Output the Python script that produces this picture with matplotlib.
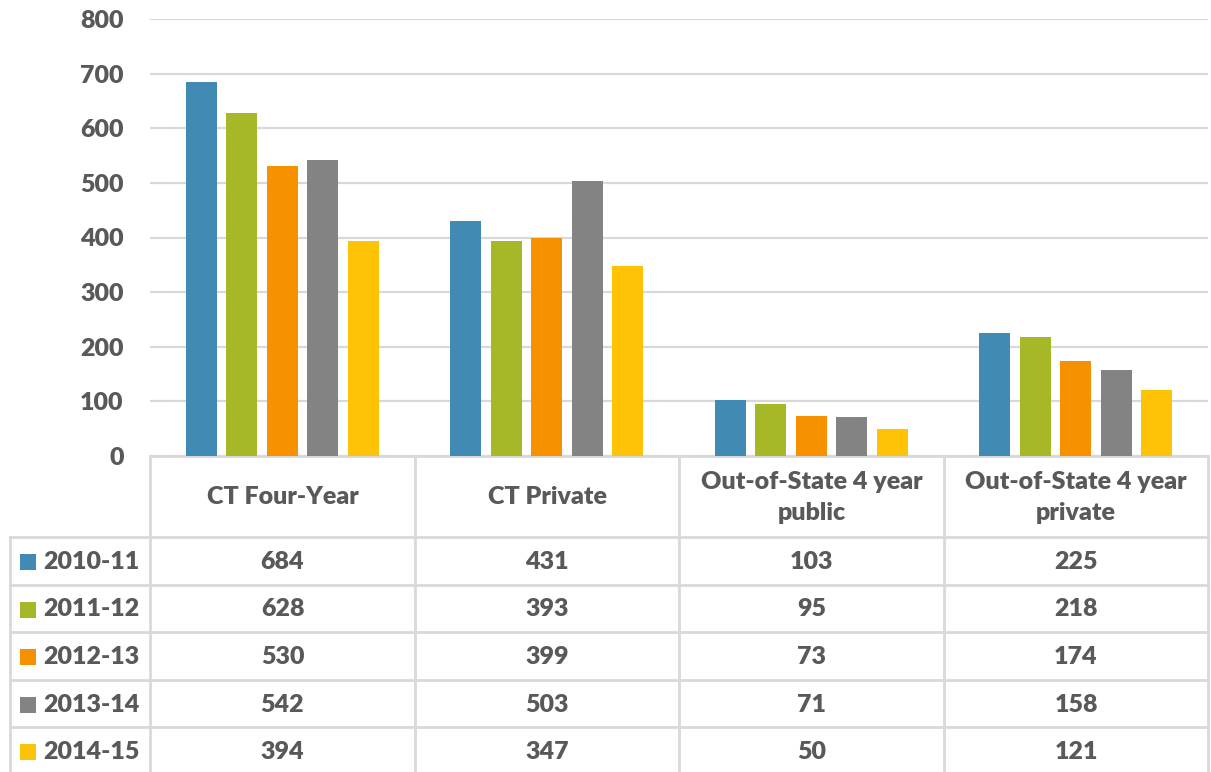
import matplotlib
matplotlib.use("Agg")
import matplotlib.pyplot as plt
import numpy as np

categories = ["CT Four-Year", "CT Private", "Out-of-State 4 year\npublic", "Out-of-State 4 year\nprivate"]
years = ["2010-11", "2011-12", "2012-13", "2013-14", "2014-15"]
v2010 = [684, 431, 103, 225]
v2011 = [628, 393, 95, 218]
v2012 = [530, 399, 73, 174]
v2013 = [542, 503, 71, 158]
v2014 = [394, 347, 50, 121]
series = [v2010, v2011, v2012, v2013, v2014]
colors = ["#418AB3", "#A6B727", "#F69200", "#838383", "#FEC306"]
yticks = [0, 100, 200, 300, 400, 500, 600, 700, 800]

W, H = 1211, 772
TXT = "#595959"
GRID = "#D9D9D9"
FONT = "Lato"
FW = "heavy"
FS = 18

fig = plt.figure(figsize=(W / 100, H / 100), dpi=100)

# overlay axes in pixel coordinates for the data table
tab = fig.add_axes([0, 0, 1, 1])
tab.set_xlim(0, W)
tab.set_ylim(H, 0)
tab.axis("off")

x0, x1 = 150, 1208
y_top, y_bot = 19, 456
ax = fig.add_axes([x0 / W, (H - y_bot) / H, (x1 - x0) / W, (y_bot - y_top) / H])
ax.set_zorder(2)
ax.patch.set_alpha(0)

n = len(series)
slot = 0.153
bw = 0.118
xs = np.arange(len(categories))
for i, (vals, c) in enumerate(zip(series, colors)):
    ax.bar(xs + (i - (n - 1) / 2) * slot, vals, width=bw, color=c, zorder=3)

ax.set_xlim(-0.5, len(categories) - 0.5)
ax.set_ylim(0, 800)
ax.set_yticks(yticks)
ax.set_yticklabels([str(t) for t in yticks], fontfamily=FONT, fontweight=FW,
                   fontsize=FS, color=TXT)
ax.tick_params(axis="y", length=0, pad=19)
ax.set_xticks([])
for s in ["top", "right", "left", "bottom"]:
    ax.spines[s].set_visible(False)
ax.grid(axis="y", color=GRID, linewidth=1.6, zorder=0)
ax.set_axisbelow(True)

# table grid
lw = 2.0
col_x = [150, 415, 679, 944, 1208]
row_y = [456, 537, 585, 632, 680, 727, 775]
tab.plot([150, 1208], [456, 456], color=GRID, lw=lw)
for cx in col_x:
    tab.plot([cx, cx], [456, 772], color=GRID, lw=lw)
tab.plot([10, 10], [537, 772], color=GRID, lw=lw)
for ry in row_y[1:-1]:
    tab.plot([10, 1208], [ry, ry], color=GRID, lw=lw)

# header
for j, cat in enumerate(categories):
    cx = (col_x[j] + col_x[j + 1]) / 2
    tab.text(cx, (row_y[0] + row_y[1]) / 2 + 1, cat, ha="center", va="center",
             fontfamily=FONT, fontweight=FW, fontsize=FS, color=TXT,
             linespacing=1.5)

# rows
for i, (yr, vals, c) in enumerate(zip(years, series, colors)):
    cy = (row_y[i + 1] + row_y[i + 2]) / 2 + 1
    tab.add_patch(plt.Rectangle((20, cy - 8), 16, 16, color=c, lw=0))
    tab.text(43, cy, yr, ha="left", va="center", fontfamily=FONT,
             fontweight=FW, fontsize=FS, color=TXT)
    for j, v in enumerate(vals):
        cx = (col_x[j] + col_x[j + 1]) / 2
        tab.text(cx, cy, str(v), ha="center", va="center", fontfamily=FONT,
                 fontweight=FW, fontsize=FS, color=TXT)

fig.savefig("out.png", dpi=100)
